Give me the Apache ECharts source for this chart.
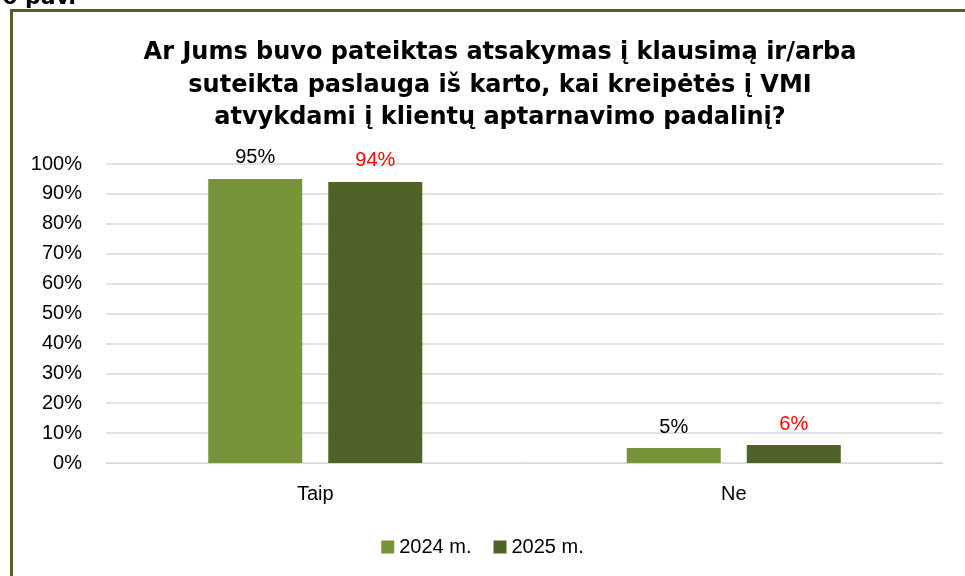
<!DOCTYPE html>
<html>
<head>
<meta charset="utf-8">
<script src="https://cdn.jsdelivr.net/npm/echarts@6/dist/echarts.min.js"></script>
<style>
  html, body { margin: 0; padding: 0; background: #fff; }
  #chart { width: 965px; height: 576px; }
</style>
</head>
<body>
<div id="chart"></div>
<script>
const categories = ['Taip', 'Ne'];
const seriesNames = ['2024 m.', '2025 m.'];
const values2024 = [95, 5];
const values2025 = [94, 6];
const yTicks = [0, 10, 20, 30, 40, 50, 60, 70, 80, 90, 100];

const chart = echarts.init(document.getElementById('chart'));
const labelFont = 'Liberation Sans';

chart.setOption({
  animation: false,
  title: {
    text: 'Ar Jums buvo pateiktas atsakymas į klausimą ir/arba\nsuteikta paslauga iš karto, kai kreipėtės į VMI\natvykdami į klientų aptarnavimo padalinį?',
    left: 495, top: 32, textAlign: 'center',
    textStyle: { fontFamily: 'DejaVu Sans', fontWeight: 'bold', fontSize: 24, lineHeight: 32.5, color: '#000' }
  },
  graphic: [
    { type: 'rect', shape: { x: 11.5, y: 10.5, width: 1000, height: 700 },
      style: { fill: 'none', stroke: '#4F6228', lineWidth: 3 } },
    { type: 'text', left: 2, top: -13,
      style: { text: '6 pav.', fontFamily: 'DejaVu Sans', fontWeight: 'bold', fontSize: 22, fill: '#000' } }
  ],
  grid: { left: 106, right: 22, top: 164, bottom: 113 },
  legend: {
    bottom: 14, left: 'center', itemWidth: 13, itemHeight: 13, itemGap: 22,
    icon: 'rect',
    textStyle: { fontFamily: labelFont, fontSize: 20, color: '#000' },
    data: seriesNames
  },
  xAxis: {
    type: 'category', data: categories,
    axisLine: { lineStyle: { color: '#d9d9d9' } },
    axisTick: { show: false },
    axisLabel: { fontFamily: labelFont, fontSize: 20, color: '#000', margin: 21 }
  },
  yAxis: {
    type: 'value', min: 0, max: 100, interval: 10,
    axisLine: { show: false }, axisTick: { show: false },
    splitLine: { lineStyle: { color: '#d9d9d9', width: 1.5 } },
    axisLabel: { fontFamily: labelFont, fontSize: 20, color: '#000', margin: 24,
      formatter: v => yTicks.includes(v) ? v + '%' : '' }
  },
  series: [
    { name: seriesNames[0], type: 'bar', data: values2024, barWidth: 94, barGap: '27.7%',
      itemStyle: { color: '#77933C' },
      label: { show: true, position: 'top', distance: 11, formatter: '{c}%',
        fontFamily: labelFont, fontSize: 20, color: '#000' } },
    { name: seriesNames[1], type: 'bar', data: values2025, barWidth: 94,
      itemStyle: { color: '#4F6228' },
      label: { show: true, position: 'top', distance: 11, formatter: '{c}%',
        fontFamily: labelFont, fontSize: 20, color: '#FF0000' } }
  ]
});
</script>
</body>
</html>
